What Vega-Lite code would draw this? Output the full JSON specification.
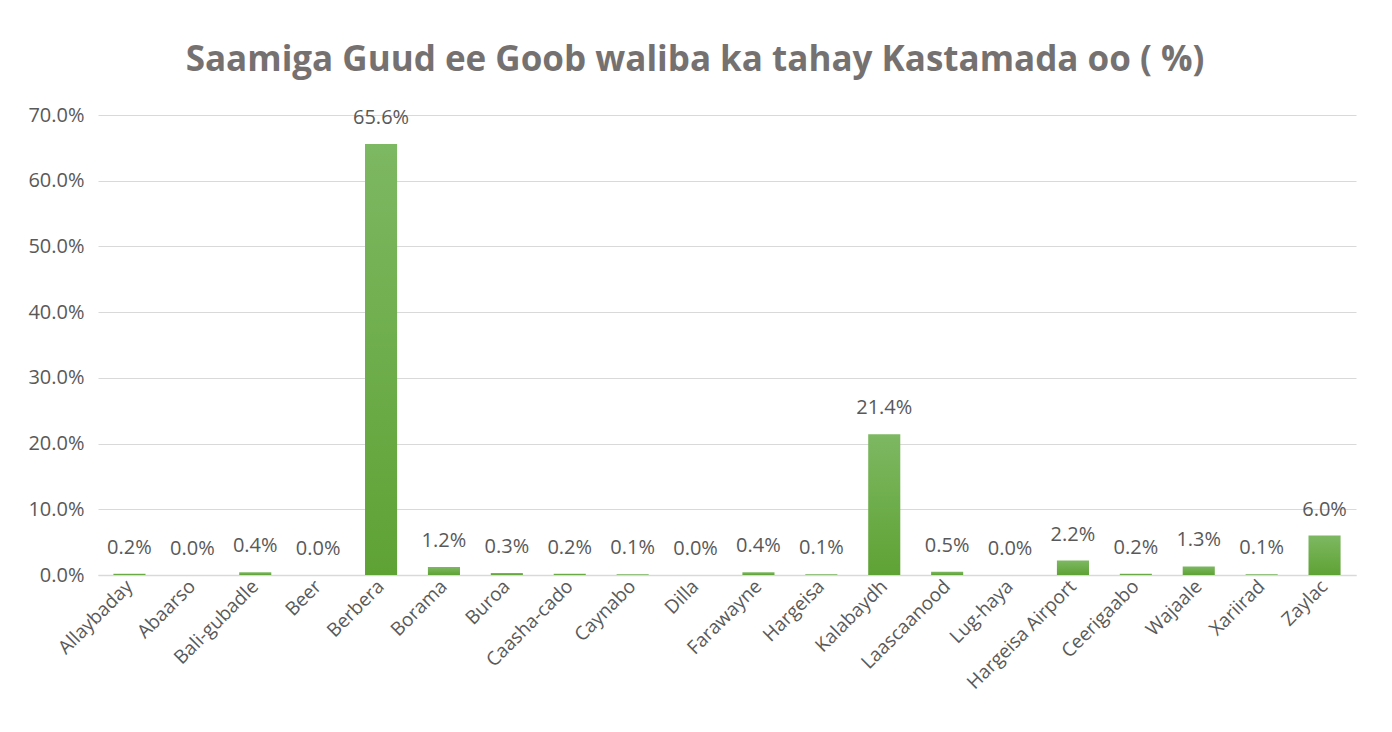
{
  "$schema": "https://vega.github.io/schema/vega-lite/v6.json",
  "width": 1258,
  "height": 460,
  "autosize": {"type": "none"},
  "padding": {"left": 98, "top": 115, "right": 36, "bottom": 157},
  "background": "white",
  "title": {
    "text": "Saamiga Guud ee Goob waliba ka tahay Kastamada oo ( %)",
    "font": "Open Sans",
    "fontSize": 35,
    "fontWeight": "bold",
    "color": "#767171",
    "anchor": "middle",
    "dx": -32,
    "offset": 27
  },
  "config": {
    "view": {"stroke": null},
    "font": "Open Sans"
  },
  "data": {
    "values": [
      {"Goob": "Allaybaday", "Saami": 0.002},
      {"Goob": "Abaarso", "Saami": 0.0},
      {"Goob": "Bali-gubadle", "Saami": 0.004},
      {"Goob": "Beer", "Saami": 0.0},
      {"Goob": "Berbera", "Saami": 0.656},
      {"Goob": "Borama", "Saami": 0.012},
      {"Goob": "Buroa", "Saami": 0.003},
      {"Goob": "Caasha-cado", "Saami": 0.002},
      {"Goob": "Caynabo", "Saami": 0.001},
      {"Goob": "Dilla", "Saami": 0.0},
      {"Goob": "Farawayne", "Saami": 0.004},
      {"Goob": "Hargeisa", "Saami": 0.001},
      {"Goob": "Kalabaydh", "Saami": 0.214},
      {"Goob": "Laascaanood", "Saami": 0.005},
      {"Goob": "Lug-haya", "Saami": 0.0},
      {"Goob": "Hargeisa Airport", "Saami": 0.022},
      {"Goob": "Ceerigaabo", "Saami": 0.002},
      {"Goob": "Wajaale", "Saami": 0.013},
      {"Goob": "Xariirad", "Saami": 0.001},
      {"Goob": "Zaylac", "Saami": 0.06}
    ]
  },
  "encoding": {
    "x": {
      "field": "Goob",
      "type": "nominal",
      "sort": null,
      "title": null,
      "scale": {"paddingInner": 0.49, "paddingOuter": 0.245},
      "axis": {
        "labelAngle": -45,
        "labelAlign": "right",
        "labelBaseline": "middle",
        "labelFontSize": 19,
        "labelColor": "#595959",
        "labelPadding": 8,
        "ticks": false,
        "domain": true,
        "domainColor": "#d9d9d9",
        "domainWidth": 1.5
      }
    },
    "y": {
      "field": "Saami",
      "type": "quantitative",
      "title": null,
      "scale": {"domain": [0, 0.7]},
      "axis": {
        "format": ".1%",
        "values": [0, 0.1, 0.2, 0.3, 0.4, 0.5, 0.6, 0.7],
        "labelFontSize": 20,
        "labelColor": "#595959",
        "labelPadding": 14,
        "ticks": false,
        "domain": false,
        "gridColor": "#d9d9d9",
        "gridWidth": 1.2
      }
    }
  },
  "layer": [
    {
      "mark": {
        "type": "bar",
        "color": {
          "gradient": "linear",
          "x1": 0, "y1": 0, "x2": 0, "y2": 1,
          "stops": [
            {"offset": 0, "color": "#7db862"},
            {"offset": 1, "color": "#5fa234"}
          ]
        }
      }
    },
    {
      "mark": {
        "type": "text",
        "baseline": "middle",
        "dy": -26,
        "fontSize": 20,
        "color": "#595959"
      },
      "encoding": {
        "text": {"field": "Saami", "type": "quantitative", "format": ".1%"}
      }
    }
  ]
}
